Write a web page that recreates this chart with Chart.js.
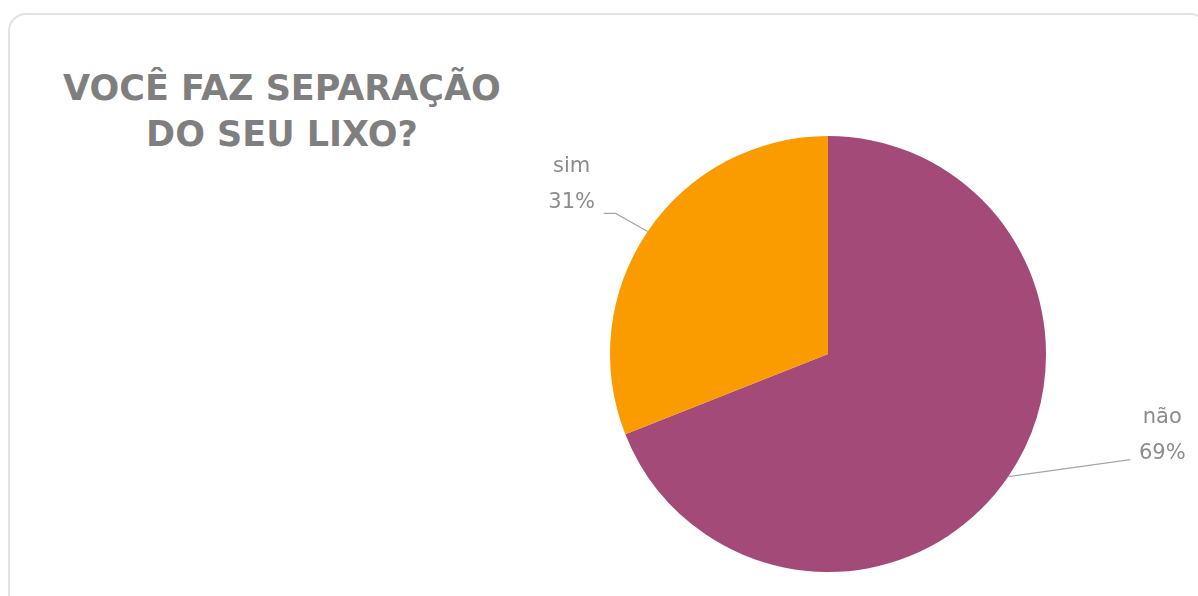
<!DOCTYPE html>
<html>
<head>
<meta charset="utf-8">
<script src="https://cdn.jsdelivr.net/npm/chart.js@4/dist/chart.umd.min.js"></script>
<style>
  html, body { margin: 0; padding: 0; background: #fff; }
  #wrap { position: relative; width: 1198px; height: 596px; overflow: hidden; }
  #card {
    position: absolute; left: 8px; top: 13px; width: 1200px; height: 600px;
    border: 2px solid #e2e2e2; border-radius: 18px; box-sizing: border-box;
  }
  #title {
    position: absolute; left: 0; top: 65px; width: 564px; text-align: center;
    font-family: "DejaVu Sans", sans-serif; font-weight: bold; font-size: 35px;
    line-height: 46px; color: #7f7f7f;
  }
  canvas { position: absolute; left: 0; top: 0; }
</style>
</head>
<body>
<div id="wrap">
  <div id="card"></div>
  <div id="title">VOCÊ FAZ SEPARAÇÃO<br>DO SEU LIXO?</div>
  <canvas id="pieChart" width="1198" height="596"></canvas>
</div>
<script>
// dados
const categories = ['não', 'sim'];
const percentValues = [69, 31];
const sliceColors = ['#a44a79', '#fa9b00'];

// posição dos rótulos relativa ao ponto médio da borda de cada fatia
const labelLayout = [
    { line: [[122, -17]], text: [154, -41] },
    { line: [[-32, -18], [-44, -18]], text: [-76, -47] }
];

const leaderLabels = {
    id: 'leaderLabels',
    afterDatasetsDraw(chart) {
        const ctx = chart.ctx;
        const meta = chart.getDatasetMeta(0);
        meta.data.forEach((arc, i) => {
            const p = arc.getProps(['x', 'y', 'startAngle', 'endAngle', 'outerRadius'], true);
            const mid = (p.startAngle + p.endAngle) / 2;
            const ex = p.x + Math.cos(mid) * p.outerRadius;
            const ey = p.y + Math.sin(mid) * p.outerRadius;
            const lay = labelLayout[i];

            ctx.save();
            ctx.strokeStyle = '#a6a6a6';
            ctx.lineWidth = 1.2;
            ctx.beginPath();
            ctx.moveTo(ex, ey);
            lay.line.forEach(pt => ctx.lineTo(ex + pt[0], ey + pt[1]));
            ctx.stroke();

            ctx.fillStyle = '#8c8c8c';
            ctx.font = '21px "DejaVu Sans", sans-serif';
            ctx.textAlign = 'center';
            ctx.textBaseline = 'middle';
            const tx = ex + lay.text[0];
            const ty = ey + lay.text[1];
            ctx.fillText(categories[i], tx, ty - 18);
            ctx.fillText(percentValues[i] + '%', tx, ty + 18);
            ctx.restore();
        });
    }
};

new Chart(document.getElementById('pieChart').getContext('2d'), {
    type: 'pie',
    data: {
        labels: categories,
        datasets: [{
            data: percentValues,
            backgroundColor: sliceColors,
            borderWidth: 0
        }]
    },
    options: {
        responsive: false,
        animation: false,
        layout: {
            padding: { left: 610, right: 152, top: 136, bottom: 24 }
        },
        plugins: {
            legend: { display: false },
            tooltip: { enabled: false }
        }
    },
    plugins: [leaderLabels]
});
</script>
</body>
</html>
